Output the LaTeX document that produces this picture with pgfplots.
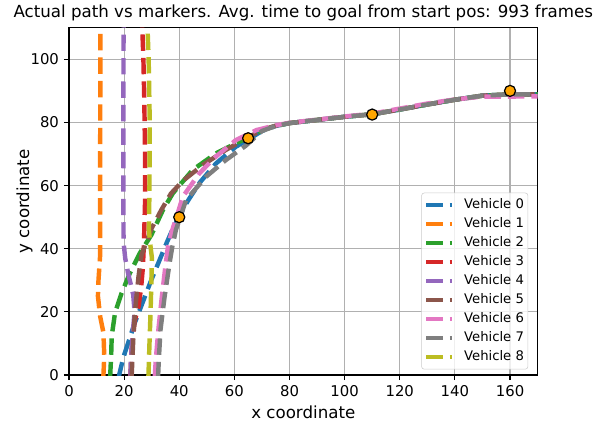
\documentclass[border=0pt]{standalone}
\usepackage{fontspec}
\setmainfont{DejaVu Sans}
\usepackage{pgfplots}
\pgfplotsset{compat=1.18}
\definecolor{c0}{HTML}{1F77B4}
\definecolor{c1}{HTML}{FF7F0E}
\definecolor{c2}{HTML}{2CA02C}
\definecolor{c3}{HTML}{D62728}
\definecolor{c4}{HTML}{9467BD}
\definecolor{c5}{HTML}{8C564B}
\definecolor{c6}{HTML}{E377C2}
\definecolor{c7}{HTML}{7F7F7F}
\definecolor{c8}{HTML}{BCBD22}
\definecolor{gridgray}{HTML}{B0B0B0}
\definecolor{leggray}{HTML}{CCCCCC}
\definecolor{markorange}{HTML}{FFA500}
\begin{document}
\begin{tikzpicture}
\path[use as bounding box] (-49.7pt,-34.6pt) rectangle (380.4pt,270.2pt);
\begin{axis}[
  at={(0pt,0pt)}, anchor=south west,
  scale only axis, width=337.6pt, height=250.2pt,
  xmin=0, xmax=170, ymin=0, ymax=110,
  xtick={0,20,40,60,80,100,120,140,160}, ytick={0,20,40,60,80,100},
  xticklabels={\mbox{0},\mbox{20},\mbox{40},\mbox{60},\mbox{80},\mbox{100},\mbox{120},\mbox{140},\mbox{160}},
  yticklabels={\mbox{0},\mbox{20},\mbox{40},\mbox{60},\mbox{80},\mbox{100}},
  grid=major, grid style={color=gridgray, line width=0.85pt},
  tick align=outside, tick pos=left, major tick length=3.7pt,
  tick style={black, line width=0.85pt},
  axis line style={line width=0.85pt},
  ticklabel style={font=\fontsize{10.7}{12}\selectfont},
  xlabel={x coordinate}, ylabel={y coordinate},
  label style={font=\fontsize{12}{14}\selectfont},
  ylabel style={at={(axis description cs:-0.077,0.5)}, anchor=south, inner sep=0pt},
  title={Actual path vs markers. Avg. time to goal from start pos: 993 frames},
  title style={font=\fontsize{12}{14}\selectfont, yshift=-4.5pt},
  every axis plot/.append style={line width=3.2pt, dash pattern=on 11.8pt off 5.1pt, line join=round},
  legend cell align=left,
  legend image code/.code={\draw[#1] (0pt,0pt) -- (18.7pt,0pt);},
  legend style={at={(0.98,0.016)}, anchor=south east, font=\fontsize{9.5}{11}\selectfont,
    draw=leggray, rounded corners=2pt, fill=white, fill opacity=0.8, text opacity=1,
    inner xsep=1.9pt, inner ysep=3.2pt, row sep=2.7pt, column sep=5.9pt,
    nodes={inner sep=1pt, text height=7pt, text depth=2pt}},
]
\addplot[c0] coordinates {(18.2,-1) (18.2,0) (19.7,5.5) (21.5,10.3) (23.9,16.6) (26.9,23.4) (29.9,30.2) (32.9,36.5) (35.5,42) (37.5,46) (40,50.3) (43,55) (47.3,60.8) (53.3,67) (60.5,72.3) (65,74.6) (70,77.3) (75,78.9) (80,79.8) (90,80.8) (100,81.8) (110,82.6) (120,84.1) (130,85.7) (140,87.2) (150,88.5) (160,88.9) (172,88.9)};
\addlegendentry{Vehicle 0}
\addplot[c1] coordinates {(12.5,-1) (12.5,0) (12.8,6) (12.5,13.4) (11.3,18.6) (10.5,25) (10.7,30) (11.3,38) (11.3,60) (11.4,112)};
\addlegendentry{Vehicle 1}
\addplot[c2] coordinates {(14.9,-1) (15.3,6.1) (15.5,12.3) (16.7,19.7) (19.1,26) (22.1,32.3) (25.7,38.6) (29.9,44.4) (34.1,52.3) (37.7,57.6) (44.9,65) (53.3,70.2) (60.5,73.4) (65,75.2) (70,77.5) (75,78.9) (80,79.8) (90,80.8) (100,81.8) (110,82.6) (120,84.1) (130,85.7) (140,87.2) (150,88.5) (160,88.9) (172,88.9)};
\addlegendentry{Vehicle 2}
\addplot[c3] coordinates {(22.3,-1) (22.3,0) (22.7,8) (23.8,17) (25.3,22) (26.2,28) (26.8,34) (27.2,42) (27.6,55) (27.6,70) (27.3,88) (27,100) (26.5,112)};
\addlegendentry{Vehicle 3}
\addplot[c4] coordinates {(22.3,-1) (22.5,5) (23,12) (23.8,20) (23.3,25.5) (21.5,32) (20.4,37) (19.8,42) (19.7,60) (19.8,112)};
\addlegendentry{Vehicle 4}
\addplot[c5] coordinates {(22.7,-1) (23.3,11) (23.9,19.7) (24.5,25) (25.2,31) (26.3,38) (28,42) (30,46.5) (33.5,52.3) (37,57.5) (41.3,61.5) (48.5,66.5) (56.9,71.3) (65,75.3) (70,77.6) (75,79) (80,79.8) (90,80.8) (100,81.8) (110,82.6) (120,84.1) (130,85.7) (140,87.2) (150,88.5) (160,88.9) (172,88.9)};
\addlegendentry{Vehicle 5}
\addplot[c6] coordinates {(31.1,-1) (31.5,5) (32.5,15) (33.7,24.9) (34.7,32.4) (35.9,40.7) (37.3,45.5) (39,50) (41.3,56.5) (47.3,63.9) (53.3,69.2) (60.5,74.4) (68,77.6) (75,79.1) (80,79.9) (90,80.9) (100,81.9) (110,82.8) (120,84.4) (130,86) (140,87.3) (150,88.2) (160,88.2) (172,88.3)};
\addlegendentry{Vehicle 6}
\addplot[c7] coordinates {(32.3,-1) (32.6,5) (33.2,14.4) (34.7,24.9) (36.5,35.5) (37.5,40.7) (38.8,46) (42.5,55.5) (49.7,62.8) (56.9,68.1) (64.1,72.6) (70,77.3) (75,78.9) (80,79.8) (90,80.8) (100,81.8) (110,82.6) (120,84.1) (130,85.7) (140,87.2) (150,88.5) (160,88.9) (172,88.9)};
\addlegendentry{Vehicle 7}
\addplot[c8] coordinates {(28.8,-1) (29.2,10) (29.6,20) (29.9,30) (30.1,37) (29.4,42) (29,46) (29.2,60) (29.3,80) (28.9,100) (28.4,112)};
\addlegendentry{Vehicle 8}
\addplot[only marks, solid, mark=*, mark size=4pt, line width=0.9pt, mark options={fill=markorange, draw=black, solid}, forget plot] coordinates {(40,50) (65,75) (110,82.5) (160,90)};
\end{axis}
\end{tikzpicture}
\end{document}
